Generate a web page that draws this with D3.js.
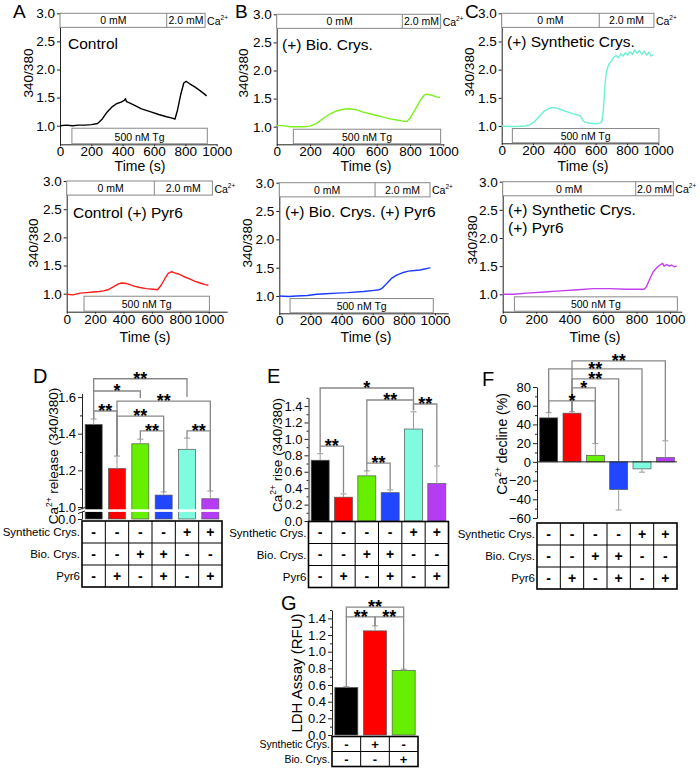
<!DOCTYPE html>
<html><head><meta charset="utf-8">
<script src="https://cdn.jsdelivr.net/npm/d3@7/dist/d3.min.js"></script>
<style>
html,body{margin:0;padding:0;background:#fff;}
svg{display:block;}
text{font-family:"Liberation Sans",Arial,Helvetica,sans-serif;fill:#000;}
</style></head><body>
<svg id="chart" width="700" height="768"></svg>
<script>
// ================= DATA =================
const timeTicks = [0,200,400,600,800,1000];
const ratioTicks = [1.0,1.5,2.0,2.5,3.0];

const traceControl = [[0,1.00],[40,1.01],[80,1.00],[120,1.01],[160,1.01],[200,1.02],[240,1.04],[270,1.12],[300,1.24],[330,1.33],[360,1.39],[390,1.42],[410,1.45],[418,1.48],[424,1.43],[440,1.41],[470,1.37],[520,1.30],[575,1.25],[630,1.20],[680,1.16],[710,1.14],[734,1.12],[750,1.28],[770,1.55],[790,1.76],[805,1.79],[825,1.75],[860,1.69],[900,1.61],[936,1.53]];
const traceBio = [[0,1.02],[40,1.02],[80,1.00],[120,1.00],[160,1.00],[200,1.01],[240,1.06],[280,1.15],[320,1.23],[360,1.28],[400,1.31],[440,1.32],[480,1.30],[520,1.26],[560,1.23],[600,1.20],[640,1.17],[680,1.14],[720,1.12],[760,1.10],[780,1.09],[800,1.15],[830,1.30],[860,1.46],[885,1.56],[900,1.58],[930,1.56],[960,1.53],[980,1.52]];
const traceSynthetic = [[0,1.00],[50,0.99],[100,0.99],[150,1.00],[180,1.02],[210,1.08],[240,1.17],[270,1.26],[300,1.31],[330,1.33],[360,1.31],[390,1.28],[420,1.25],[450,1.22],[480,1.20],[505,1.17],[520,1.09],[540,1.06],[570,1.05],[600,1.04],[625,1.05],[640,1.08],[650,1.30],[660,1.75],[670,1.98],[685,2.10],[700,2.15],[715,2.22],[730,2.25],[745,2.21],[760,2.28],[775,2.24],[790,2.30],[805,2.26],[820,2.32],[835,2.27],[850,2.35],[865,2.29],[880,2.34],[895,2.27],[910,2.33],[925,2.26],[940,2.31],[955,2.24],[965,2.27]];
const traceControlPyr6 = [[0,0.99],[45,0.98],[94,1.01],[140,1.02],[188,1.03],[230,1.04],[258,1.05],[290,1.07],[329,1.12],[360,1.17],[387,1.19],[420,1.18],[446,1.16],[480,1.13],[516,1.11],[560,1.09],[610,1.08],[640,1.07],[665,1.15],[692,1.27],[715,1.36],[739,1.39],[760,1.37],[786,1.35],[820,1.31],[869,1.26],[905,1.22],[939,1.19],[975,1.16],[998,1.15]];
const traceBioPyr6 = [[0,1.00],[60,0.99],[111,1.00],[180,1.01],[240,1.03],[300,1.04],[368,1.05],[440,1.06],[540,1.08],[610,1.10],[640,1.11],[657,1.13],[690,1.22],[720,1.31],[754,1.37],[790,1.41],[829,1.44],[870,1.45],[904,1.46],[940,1.48],[970,1.50]];
const traceSyntheticPyr6 = [[0,1.00],[70,1.00],[143,1.02],[250,1.04],[343,1.06],[450,1.08],[542,1.10],[641,1.10],[741,1.09],[800,1.09],[845,1.09],[860,1.14],[880,1.28],[900,1.40],[920,1.47],[940,1.52],[956,1.55],[965,1.50],[980,1.53],[995,1.50],[1010,1.52],[1025,1.49],[1040,1.50]];

const panelTitles = [["Control"],["(+) Bio. Crys."],["(+) Synthetic Crys."],["Control (+) Pyr6"],["(+) Bio. Crys. (+) Pyr6"],["(+) Synthetic Crys.","(+) Pyr6"]];
const caSwitchTimes = [681,754,623,617,615,795];
const caBoxEndTimes = [926,984,972,1026,968,1020];
const tgStartTimes = [76,100,68,122,69,70];
const tgEndTimes = [940,984,1004,1005,989,1044];
const traceColors = ["#000000","#7cf01c","#6ff0d2","#ff1a1a","#1a3cff","#c23ef0"];

const barColors = ["#000000","#ff0000","#66f000","#2046ff","#7ffce0","#b43cf5"];
const releaseVals = [1.45,1.21,1.345,1.065,1.315,1.045];
const releaseErr  = [1.48,1.278,1.37,1.082,1.376,1.087];
const riseVals = [0.74,0.29,0.55,0.345,1.12,0.455];
const riseErr  = [0.82,0.33,0.61,0.38,1.33,0.67];
const declineVals = [47,52,7,-29.5,-7.5,4.5];
const declineErr  = [52.5,53.5,19.5,-51.5,-11,22.5];
const ldhVals = [0.57,1.25,0.775];
const ldhErr  = [0.58,1.31,0.79];
const ldhColors = ["#000000","#ff0000","#66f000"];

// significance brackets: [fromBar, toBar, level, leftLegEnd, rightLegEnd, label] (value units)
const releaseSig = [[0,4,1.70,1.633,1.60,"**"],[0,2,1.633,1.48,1.595,"*"],[0,1,1.524,1.48,1.278,"**"],[1,5,1.578,1.278,1.087,"**"],[1,3,1.496,1.278,1.082,"**"],[2,3,1.415,1.371,1.082,"**"],[4,5,1.415,1.376,1.087,"**"]];
const riseSig = [[0,4,1.62,0.913,1.474,"*"],[2,4,1.474,0.706,1.35,"**"],[4,5,1.425,1.35,0.68,"**"],[0,1,0.913,0.83,0.34,"**"],[2,3,0.706,0.61,0.39,"**"]];
const declineSig = [[1,5,108,53.5,23,"**"],[0,4,99.4,52.5,1,"**"],[1,3,88.7,53.5,1,"**"],[1,2,79,53.5,20,"*"],[0,2,65.2,52.5,20,"*"]];
const ldhSig = [[0,2,1.536,1.417,1.417,"**"],[0,1,1.417,0.57,1.31,"**"],[1,2,1.417,1.31,0.78,"**"]];

const tableRowLabels = ["Synthetic Crys.","Bio. Crys.","Pyr6"];
const tableSynthetic = ["-","-","-","-","+","+"];
const tableBio = ["-","-","+","+","-","-"];
const tablePyr6 = ["-","+","-","+","-","+"];
const ldhRowLabels = ["Synthetic Crys.","Bio. Crys."];
const ldhSynthetic = ["-","+","-"];
const ldhBio = ["-","-","+"];

// ================= LAYOUT =================
const svg = d3.select("#chart");
const FONT = '"Liberation Sans",Arial,Helvetica,sans-serif';

function styleAxis(g, fs){
  g.selectAll("text").attr("font-size",fs).attr("font-family",FONT).attr("fill","#000");
  g.selectAll("path,line").attr("stroke","#222").attr("stroke-width",1);
}

const traces = [traceControl,traceBio,traceSynthetic,traceControlPyr6,traceBioPyr6,traceSyntheticPyr6];
const linePanels = [
 {x0:60,   x1:216.7, xEnd:1000, y1:125.7, y3:13.3,  axisY:144.3, letter:"A", lx:13,  ly:18, tx:68,  ty:49,  ylx:33,  yly:73,  timeX:140, timeY:171},
 {x0:276.7,x1:443.3, xEnd:1000, y1:126.7, y3:14.3,  axisY:144.3, letter:"B", lx:235, ly:18, tx:282, ty:50,  ylx:248, yly:73,  timeX:366, timeY:171},
 {x0:501.7,x1:658.3, xEnd:1000, y1:126,   y3:13.3,  axisY:143.3, letter:"C", lx:465, ly:18, tx:507, ty:47,  ylx:474, yly:72,  timeX:583, timeY:171},
 {x0:66.7, x1:208.7, xEnd:1130, y1:293.7, y3:181,   axisY:311.7, letter:null, tx:73,  ty:218, ylx:38,  yly:243, timeX:145, timeY:342},
 {x0:279.3,x1:435,   xEnd:1085, y1:296,   y3:182.7, axisY:313.3, letter:null, tx:285, ty:217, ylx:252, yly:243, timeX:366, timeY:342},
 {x0:502.7,x1:670,   xEnd:1070, y1:294.3, y3:181.7, axisY:311.7, letter:null, tx:508, ty:215, ylx:477, yly:240, timeX:595, timeY:342}
];

linePanels.forEach((p,i)=>{
  const x = d3.scaleLinear().domain([0,1000]).range([p.x0,p.x1]);
  const y = d3.scaleLinear().domain([1,3]).range([p.y1,p.y3]);
  const yMin = y.invert(p.axisY);
  const g = svg.append("g");
  const xa = d3.scaleLinear().domain([0,p.xEnd]).range([p.x0,x(p.xEnd)]);
  g.append("g").attr("transform",`translate(0,${p.axisY})`)
    .call(d3.axisBottom(xa).tickValues(timeTicks).tickFormat(d3.format("d")).tickSize(2).tickSizeOuter(0).tickPadding(0.5))
    .call(styleAxis,13.5);
  const ya = d3.scaleLinear().domain([yMin,3]).range([p.axisY,p.y3]);
  g.append("g").attr("transform",`translate(${p.x0},0)`)
    .call(d3.axisLeft(ya).tickValues(ratioTicks).tickFormat(d3.format(".1f")).tickSize(3).tickSizeOuter(0).tickPadding(2))
    .call(styleAxis,13.5);

  // top calcium box
  const bx0 = x(0), bx1 = x(caBoxEndTimes[i]), bxs = x(caSwitchTimes[i]);
  const by0 = y(3.0), by1 = y(2.75);
  g.append("rect").attr("x",bx0).attr("y",by0).attr("width",bx1-bx0).attr("height",by1-by0)
    .attr("fill","#fff").attr("stroke","#888").attr("stroke-width",1);
  g.append("line").attr("x1",bxs).attr("x2",bxs).attr("y1",by0).attr("y2",by1).attr("stroke","#888");
  g.append("text").attr("x",(bx0+bxs)/2).attr("y",by1-3).attr("text-anchor","middle").attr("font-size",10.5).text("0 mM");
  g.append("text").attr("x",(bxs+bx1)/2).attr("y",by1-3).attr("text-anchor","middle").attr("font-size",10.5).text("2.0 mM");
  const ca = g.append("text").attr("x",bx1+2).attr("y",by1-2.5).attr("font-size",10.5);
  ca.append("tspan").text("Ca");
  ca.append("tspan").attr("font-size",6.5).attr("dy",-5).text("2+");

  // Tg box
  const tx0 = x(tgStartTimes[i]), tx1 = x(tgEndTimes[i]), ty0 = y(0.955);
  g.append("rect").attr("x",tx0).attr("y",ty0).attr("width",tx1-tx0).attr("height",p.axisY-ty0-0.5)
    .attr("fill","#fff").attr("stroke","#888").attr("stroke-width",1);
  g.append("text").attr("x",(tx0+tx1)/2).attr("y",p.axisY-3.5).attr("text-anchor","middle").attr("font-size",10.5).text("500 nM Tg");

  // trace
  g.append("path").datum(traces[i]).attr("fill","none").attr("stroke",traceColors[i]).attr("stroke-width",1.4)
    .attr("stroke-linejoin","round")
    .attr("d",d3.line().x(d=>x(d[0])).y(d=>y(d[1])));

  // titles
  panelTitles[i].forEach((t,k)=>{
    g.append("text").attr("x",p.tx).attr("y",p.ty+k*18).attr("font-size",15.5).text(t);
  });
  g.append("text").attr("transform",`translate(${p.ylx},${p.yly}) rotate(-90)`).attr("text-anchor","middle").attr("font-size",13.5).text("340/380");
  g.append("text").attr("x",p.timeX).attr("y",p.timeY).attr("text-anchor","middle").attr("font-size",14).text("Time (s)");
  if (p.letter) g.append("text").attr("x",p.lx).attr("y",p.ly).attr("font-size",19).text(p.letter);
});

// ---------- helpers for bar panels ----------
function drawBars(g, vals, errs, colors, xc, barW, y, base){
  vals.forEach((v,i)=>{
    const yv = y(v), yb = y(base);
    g.append("rect").attr("x",xc(i)-barW/2).attr("y",Math.min(yv,yb)).attr("width",barW).attr("height",Math.abs(yb-yv))
      .attr("fill",colors[i]).attr("stroke","#555").attr("stroke-width",0.7);
  });
  errs.forEach((e,i)=>{
    g.append("line").attr("x1",xc(i)).attr("x2",xc(i)).attr("y1",y(vals[i])).attr("y2",y(e)).attr("stroke","#999").attr("stroke-width",1);
    g.append("line").attr("x1",xc(i)-3).attr("x2",xc(i)+3).attr("y1",y(e)).attr("y2",y(e)).attr("stroke","#999").attr("stroke-width",1);
  });
}
function drawSig(g, list, xc, y){
  list.forEach(b=>{
    const [i,j,level,lb,rb,label] = b;
    g.append("path").attr("d",`M${xc(i)},${y(lb)}V${y(level)}H${xc(j)}V${y(rb)}`)
      .attr("fill","none").attr("stroke","#888").attr("stroke-width",1.3);
    g.append("text").attr("x",(xc(i)+xc(j))/2).attr("y",y(level)+6).attr("text-anchor","middle")
      .attr("font-size",18).attr("font-weight","bold").attr("font-family",'"DejaVu Sans",sans-serif').text(label);
  });
}
function drawTable(g, x0, colW, y0, rowH, rows, labels, labelFs, cellFs){
  const n = rows[0].length;
  rows.forEach((r,ri)=>{
    const yy = y0 + ri*rowH + rowH/2;
    g.append("text").attr("x",x0-2).attr("y",yy).attr("dy","0.35em").attr("text-anchor","end").attr("font-size",labelFs).text(labels[ri]);
    r.forEach((c,ci)=>{
      g.append("text").attr("x",x0+colW*(ci+0.5)).attr("y",yy).attr("dy","0.35em").attr("text-anchor","middle")
        .attr("font-size",cellFs).attr("font-weight","bold").text(c);
    });
  });
  for (let ci=1; ci<n; ci++) g.append("line").attr("x1",x0+ci*colW).attr("x2",x0+ci*colW).attr("y1",y0).attr("y2",y0+rows.length*rowH).attr("stroke","#000").attr("stroke-width",1);
  for (let ri=1; ri<rows.length; ri++) g.append("line").attr("x1",x0).attr("x2",x0+n*colW).attr("y1",y0+ri*rowH).attr("y2",y0+ri*rowH).attr("stroke","#000").attr("stroke-width",1);
  g.append("rect").attr("x",x0).attr("y",y0).attr("width",n*colW).attr("height",rows.length*rowH).attr("fill","none").attr("stroke","#000").attr("stroke-width",1.6);
}
function yLabel(g, x, y, fs, parts){
  const t = g.append("text").attr("transform",`translate(${x},${y}) rotate(-90)`).attr("text-anchor","middle").attr("font-size",fs);
  t.append("tspan").text(parts[0]);
  t.append("tspan").attr("font-size",fs*0.62).attr("dy",-fs*0.42).text(parts[1]);
  t.append("tspan").attr("dy",fs*0.42).text(parts[2]);
}
function minorTicks(g, x, scale, vals, size){
  g.append("g").attr("transform",`translate(${x},0)`)
    .call(d3.axisLeft(scale).tickValues(vals).tickSize(size).tickFormat(""))
    .call(a=>a.select(".domain").remove()).call(styleAxis,12);
}
const letterFont = '"Open Sans","Liberation Sans",Arial,sans-serif';
const tableRows = [tableSynthetic,tableBio,tablePyr6];

// ---------- D ----------
{
  const g = svg.append("g");
  const x0 = 82, colW = 140/6;
  const xc = i => x0 + colW*(i+0.5);
  const y = d3.scaleLinear().domain([0,0.96,1.0,1.62]).range([519,512,507,393.4]);
  g.append("g").attr("transform",`translate(${x0},0)`)
    .call(d3.axisLeft(y).tickValues([0,1.0,1.2,1.4,1.6]).tickFormat(d3.format(".1f")).tickSize(4).tickSizeOuter(0).tickPadding(2))
    .call(styleAxis,13);
  minorTicks(g, x0, y, [1.1,1.3,1.5], 2);
  drawBars(g, releaseVals, releaseErr, barColors, xc, 17, y, 0);
  // axis break
  g.append("rect").attr("x",x0-5).attr("y",509.3).attr("width",145).attr("height",2.6).attr("fill","#fff");
  g.append("line").attr("x1",x0-4).attr("x2",x0+3).attr("y1",510).attr("y2",507.5).attr("stroke","#222");
  g.append("line").attr("x1",x0-4).attr("x2",x0+3).attr("y1",513.5).attr("y2",511).attr("stroke","#222");
  drawSig(g, releaseSig, xc, y);
  drawTable(g, x0, colW, 521, 22, tableRows, tableRowLabels, 11.5, 14);
  yLabel(g, 58, 456, 13.5, ["Ca","2+"," release (340/380)"]);
  g.append("text").attr("x",33).attr("y",383).attr("font-size",20).attr("font-family",letterFont).text("D");
}
// ---------- E ----------
{
  const g = svg.append("g");
  const x0 = 308.5, colW = 140/6;
  const xc = i => x0 + colW*(i+0.5);
  const y = d3.scaleLinear().domain([0,1.5]).range([521,521-1.5*82.1]);
  g.append("g").attr("transform",`translate(${x0},0)`)
    .call(d3.axisLeft(y).tickValues([0,0.2,0.4,0.6,0.8,1.0,1.2,1.4]).tickFormat(d3.format(".1f")).tickSize(4).tickSizeOuter(0).tickPadding(2))
    .call(styleAxis,13);
  minorTicks(g, x0, y, [0.1,0.3,0.5,0.7,0.9,1.1,1.3,1.5], 2);
  drawBars(g, riseVals, riseErr, barColors, xc, 18, y, 0);
  drawSig(g, riseSig, xc, y);
  drawTable(g, x0, colW, 521.5, 22, tableRows, tableRowLabels, 11.5, 14);
  yLabel(g, 282, 455, 13.5, ["Ca","2+"," rise (340/380)"]);
  g.append("text").attr("x",267).attr("y",383).attr("font-size",20).attr("font-family",letterFont).text("E");
}
// ---------- F ----------
{
  const g = svg.append("g");
  const x0 = 537, colW = 140/6;
  const xc = i => x0 + colW*(i+0.5);
  const y = d3.scaleLinear().domain([-60,80]).range([518,387]);
  g.append("g").attr("transform",`translate(${x0},0)`)
    .call(d3.axisLeft(y).tickValues([-60,-40,-20,0,20,40,60,80]).tickFormat(d3.format("d")).tickSize(4).tickSizeOuter(0).tickPadding(2))
    .call(styleAxis,13);
  minorTicks(g, x0, y, [-50,-30,-10,10,30,50,70], 2);
  drawBars(g, declineVals, declineErr, barColors, xc, 18, y, 0);
  g.append("line").attr("x1",x0).attr("x2",x0+140).attr("y1",y(0)).attr("y2",y(0)).attr("stroke","#222").attr("stroke-width",1);
  drawSig(g, declineSig, xc, y);
  drawTable(g, x0, colW, 523, 22, tableRows, tableRowLabels, 11.5, 14);
  yLabel(g, 507, 444, 14, ["Ca","2+"," decline (%)"]);
  g.append("text").attr("x",482).attr("y",386).attr("font-size",20).attr("font-family",letterFont).text("F");
}
// ---------- G ----------
{
  const g = svg.append("g");
  const x0 = 332, colW = 86/3;
  const xc = i => x0 + colW*(i+0.5);
  const y = d3.scaleLinear().domain([0,1.5]).range([735,735-1.5*83.3]);
  g.append("g").attr("transform",`translate(${x0},0)`)
    .call(d3.axisLeft(y).tickValues([0,0.2,0.4,0.6,0.8,1.0,1.2,1.4]).tickFormat(d3.format(".1f")).tickSize(4).tickSizeOuter(0).tickPadding(2))
    .call(styleAxis,13);
  minorTicks(g, x0, y, [0.1,0.3,0.5,0.7,0.9,1.1,1.3,1.5], 2);
  drawBars(g, ldhVals, ldhErr, ldhColors, xc, 23, y, 0);
  drawSig(g, ldhSig, xc, y);
  drawTable(g, x0, colW, 736.5, 15, [ldhSynthetic,ldhBio], ldhRowLabels, 10.5, 13);
  g.append("text").attr("transform",`translate(302,673) rotate(-90)`).attr("text-anchor","middle").attr("font-size",15).text("LDH Assay (RFU)");
  g.append("text").attr("x",281).attr("y",610).attr("font-size",20).attr("font-family",letterFont).text("G");
}
</script>
</body></html>
